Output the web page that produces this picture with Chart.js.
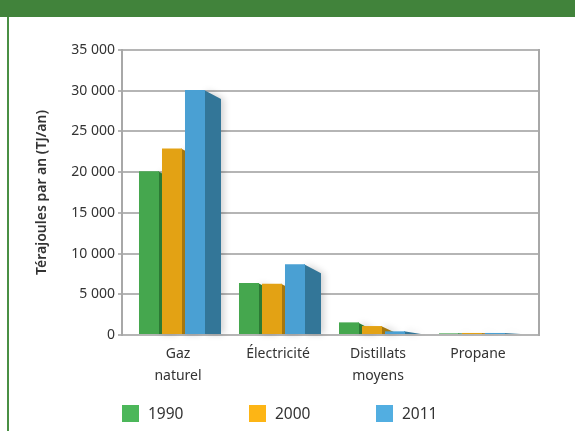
<!DOCTYPE html>
<html><head><meta charset="utf-8">
<script src="https://cdn.jsdelivr.net/npm/chart.js@4.4.1/dist/chart.umd.min.js"></script>
<style>
html,body{margin:0;padding:0;background:#fff;}
#wrap{position:relative;width:575px;height:431px;overflow:hidden;font-family:"Noto Sans",sans-serif;}
#band{position:absolute;left:0;top:0;width:575px;height:17px;background:#41833b;}
#edge{position:absolute;left:7px;top:17px;width:2px;height:414px;background:#4a8f44;}
canvas{position:absolute;left:0;top:0;}
#legend{position:absolute;left:0;top:0;width:575px;height:431px;pointer-events:none;}
.li{position:absolute;top:404px;height:18px;display:flex;align-items:center;font-size:15.5px;color:#333;white-space:nowrap;}
.li .b{width:17px;height:17px;margin-right:9px;display:inline-block;}
</style></head>
<body><div id="wrap"><div id="band"></div><div id="edge"></div><canvas id="c" width="575" height="431"></canvas><div id="legend"></div></div>
<script>
// ---- data ----
const categories = [["Gaz","naturel"],["Électricité"],["Distillats","moyens"],["Propane"]];
const years = ["1990","2000","2011"];
const values1990 = [20100, 6400, 1550, 200];
const values2000 = [22900, 6300, 1100, 250];
const values2011 = [30100, 8700, 450, 250];
const yTickValues = [0, 5000, 10000, 15000, 20000, 25000, 30000, 35000];
const axisTitle = "Térajoules par an (TJ/an)";

// ---- styles ----
const frontColors = ['#45a74e','#e3a214','#4aa0d3'];
const sideColors  = ['#2c7a35','#a47710','#337698'];
const legendColors = ['#4cb75a','#fdb515','#52aee1'];

const series = [values1990, values2000, values2011];

Chart.defaults.font.family = '"Noto Sans", sans-serif';
Chart.defaults.color = '#333';

const side3d = {
  id: 'side3d',
  beforeDatasetsDraw(chart) {
    const ctx = chart.ctx;
    const a = chart.chartArea;
    // right frame line
    ctx.save();
    ctx.strokeStyle = '#a8a8a8';
    ctx.lineWidth = 2;
    ctx.beginPath();
    ctx.moveTo(a.right, a.top - 1);
    ctx.lineTo(a.right, a.bottom + 1);
    ctx.stroke();
    ctx.restore();
    chart.data.datasets.forEach((ds, i) => {
      const meta = chart.getDatasetMeta(i);
      meta.data.forEach(bar => {
        const p = bar.getProps(['x','y','base','width'], true);
        const r = p.x + p.width / 2;
        const dx = 16, dy = Math.min(9, p.base - p.y);
        ctx.save();
        ctx.shadowColor = 'rgba(0,0,0,0.18)';
        ctx.shadowBlur = 7;
        ctx.shadowOffsetX = 3;
        ctx.fillStyle = sideColors[i];
        ctx.beginPath();
        ctx.moveTo(r - 1, p.y);
        ctx.lineTo(r + dx, p.y + dy);
        ctx.lineTo(r + dx, p.base);
        ctx.lineTo(r - 1, p.base);
        ctx.closePath();
        ctx.fill();
        ctx.restore();
      });
    });
  }
};

const chart = new Chart(document.getElementById('c'), {
  type: 'bar',
  data: {
    datasets: years.map((y, i) => ({
      label: y,
      data: series[i].map((v, k) => ({x: k + 1, y: v})),
      backgroundColor: frontColors[i],
      borderWidth: 0,
      categoryPercentage: 0.69,
      barPercentage: 0.87
    }))
  },
  options: {
    responsive: false,
    animation: false,
    devicePixelRatio: 1,
    layout: {padding: {left: 24, right: 36, top: 50, bottom: 44}},
    plugins: {legend: {display: false}, tooltip: {enabled: false}},
    scales: {
      x: {
        type: 'linear',
        offset: false,
        min: 0.5,
        max: 4.67,
        afterBuildTicks: s => { s.ticks = categories.map((c, k) => ({value: k + 1})); },
        afterFit: s => { s.height = 52; },
        ticks: {
          callback: v => categories[v - 1] || '',
          font: {size: 14, lineHeight: 1.55},
          color: '#333',
          padding: 8,
          labelOffset: 6,
          maxRotation: 0,
          autoSkip: false
        },
        grid: {display: false, drawTicks: false, tickLength: 0},
        border: {display: false}
      },
      y: {
        min: 0,
        max: 35000,
        afterFit: s => { s.width = 98; },
        afterBuildTicks: s => { s.ticks = yTickValues.map(v => ({value: v})); },
        ticks: {
          callback: v => String(v).replace(/\B(?=(\d{3})+(?!\d))/g, ' '),
          font: {size: 14},
          color: '#333',
          padding: 3
        },
        grid: {color: '#b5b5b5', lineWidth: 2, tickLength: 4},
        border: {display: true, color: '#a8a8a8', width: 2},
        title: {
          display: true,
          text: axisTitle,
          font: {size: 14, weight: '600'},
          color: '#333',
          padding: {top: 10, bottom: 0}
        }
      }
    }
  },
  plugins: [side3d]
});

// HTML legend from datasets
const lg = document.getElementById('legend');
chart.data.datasets.forEach((ds, i) => {
  const d = document.createElement('div');
  d.className = 'li';
  d.style.left = (122 + i * 127) + 'px';
  const b = document.createElement('span');
  b.className = 'b';
  b.style.background = legendColors[i];
  d.appendChild(b);
  d.appendChild(document.createTextNode(ds.label));
  lg.appendChild(d);
});
</script>
</body></html>
